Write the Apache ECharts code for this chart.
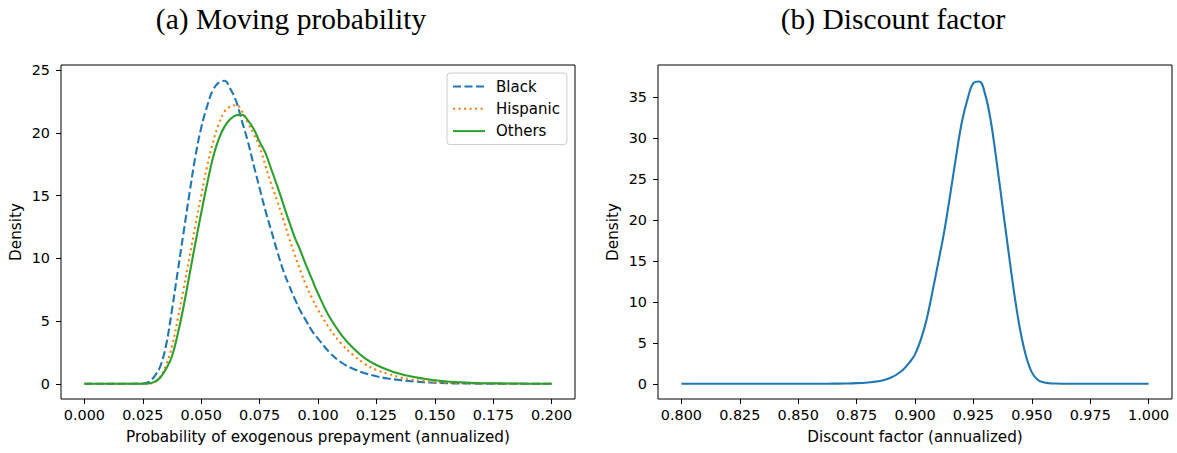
<!DOCTYPE html>
<html>
<head>
<meta charset="utf-8">
<script src="https://cdn.jsdelivr.net/npm/echarts@6/dist/echarts.min.js"></script>
<style>
html,body{margin:0;padding:0;background:#fff;}
#chart{width:1177px;height:453px;}
</style>
</head>
<body>
<div id="chart"></div>
<script>
// ---------- data ----------
const titleA = "(a) Moving probability";
const titleB = "(b) Discount factor";
const seriesNames = ["Black", "Hispanic", "Others"];

const probX = [0, 0.005, 0.01, 0.015, 0.02,
  0.025, 0.0275, 0.03, 0.0325, 0.035, 0.0375, 0.04, 0.0425, 0.045, 0.0475,
  0.05, 0.0525, 0.055, 0.0575, 0.06, 0.0625, 0.065, 0.0675, 0.07, 0.0725,
  0.075, 0.0775, 0.08, 0.0825, 0.085, 0.0875, 0.09, 0.0925, 0.095, 0.0975,
  0.1, 0.105, 0.11, 0.115, 0.12, 0.125, 0.13, 0.135, 0.14, 0.145,
  0.15, 0.155, 0.16, 0.165, 0.17, 0.175, 0.18, 0.185, 0.19, 0.195, 0.2];

const blackY = [0, 0, 0, 0, 0.005,
  0.03, 0.15, 0.6, 1.4, 3.1, 5.9, 9.0, 12.1, 15.2, 18.1,
  20.4, 22.1, 23.4, 24.0, 24.15, 23.5, 22.5, 20.9, 19.3, 17.4,
  15.6, 13.8, 12.2, 10.6, 9.1, 7.9, 6.8, 5.8, 5.0, 4.2,
  3.6, 2.5, 1.7, 1.2, 0.85, 0.6, 0.42, 0.3, 0.2, 0.13,
  0.08, 0.05, 0.03, 0.02, 0.01, 0, 0, 0, 0, 0, 0];

const hispanicY = [0, 0, 0, 0, 0,
  0, 0.02, 0.12, 0.55, 1.5, 3.0, 5.2, 7.6, 10.1, 12.6,
  15.0, 17.3, 19.2, 20.7, 21.7, 22.1, 22.2, 21.7, 20.8, 19.9,
  18.9, 17.4, 15.9, 14.6, 13.2, 11.7, 10.3, 9.0, 7.8, 6.8,
  5.9, 4.4, 3.2, 2.3, 1.6, 1.1, 0.8, 0.52, 0.34, 0.22,
  0.14, 0.09, 0.06, 0.04, 0.03, 0.02, 0.01, 0.01, 0, 0, 0];

const othersY = [0, 0, 0, 0, 0,
  0, 0.03, 0.15, 0.5, 1.2, 2.2, 4.0, 6.2, 8.7, 11.2,
  13.6, 15.9, 18.0, 19.5, 20.5, 21.1, 21.4, 21.45, 21.0, 20.3,
  19.3, 18.4, 17.1, 15.8, 14.4, 13.0, 11.7, 10.6, 9.4, 8.3,
  7.2, 5.3, 3.9, 2.85, 2.05, 1.5, 1.1, 0.8, 0.58, 0.42,
  0.28, 0.19, 0.13, 0.08, 0.05, 0.04, 0.03, 0.02, 0.01, 0, 0];

const discX = [0.8, 0.82, 0.84, 0.85, 0.86, 0.865, 0.87, 0.875, 0.88, 0.8825,
  0.885, 0.8875, 0.89, 0.8925, 0.895, 0.8975, 0.9, 0.9025, 0.905, 0.9075,
  0.91, 0.9125, 0.915, 0.9175, 0.92, 0.9225, 0.925, 0.9275, 0.93, 0.9325,
  0.935, 0.9375, 0.94, 0.9425, 0.945, 0.9475, 0.95, 0.9525, 0.955, 0.9575,
  0.96, 0.965, 0.97, 0.98, 1.0];
const discY = [0, 0, 0, 0, 0.01, 0.02, 0.04, 0.08, 0.17, 0.25,
  0.35, 0.52, 0.8, 1.2, 1.75, 2.55, 3.6, 5.4, 7.9, 11.3,
  14.9, 18.6, 23.0, 27.6, 31.9, 34.8, 36.75, 36.95, 35.4, 32.0,
  27.0, 21.6, 16.2, 11.0, 6.6, 3.4, 1.4, 0.5, 0.18, 0.07,
  0.03, 0.01, 0, 0, 0];

const xTicksA = [0, 0.025, 0.05, 0.075, 0.1, 0.125, 0.15, 0.175, 0.2];
const yTicksA = [0, 5, 10, 15, 20, 25];
const xTicksB = [0.8, 0.825, 0.85, 0.875, 0.9, 0.925, 0.95, 0.975, 1.0];
const yTicksB = [0, 5, 10, 15, 20, 25, 30, 35];

const xNameA = "Probability of exogenous prepayment (annualized)";
const xNameB = "Discount factor (annualized)";
const yName = "Density";

// ---------- styling ----------
const FS = 14.4;
const FS_NAME = 15.2;
const FS_LEG = 15;
const FONT = "DejaVu Sans";
const colors = ["#1f77b4", "#ff7f0e", "#2ca02c"];
const SMOOTH = 0.4;

function pairs(xs, ys) { return xs.map((x, i) => [x, ys[i]]); }

function xAxisCfg(gi, min, max, ticks, name) {
  return {
    type: "value", gridIndex: gi, min: min, max: max,
    name: name, nameLocation: "middle", nameGap: 30,
    nameTextStyle: { fontFamily: FONT, fontSize: FS_NAME, color: "#000" },
    axisLine: { show: false, onZero: false },
    axisTick: { show: true, length: 5, lineStyle: { color: "#000", width: 1 }, customValues: ticks },
    axisLabel: { show: true, margin: 9, fontFamily: FONT, fontSize: FS, color: "#000",
      customValues: ticks, formatter: v => Number(v).toFixed(3) },
    splitLine: { show: false }
  };
}
function yAxisCfg(gi, min, max, ticks) {
  return {
    type: "value", gridIndex: gi, min: min, max: max,
    name: yName, nameLocation: "middle", nameGap: 38,
    nameTextStyle: { fontFamily: FONT, fontSize: FS_NAME, color: "#000" },
    axisLine: { show: false, onZero: false },
    axisTick: { show: true, length: 5, lineStyle: { color: "#000", width: 1 }, customValues: ticks },
    axisLabel: { show: true, margin: 11, fontFamily: FONT, fontSize: FS, color: "#000",
      customValues: ticks, formatter: v => String(Math.round(v)) },
    splitLine: { show: false }
  };
}

const titleFont = "29.5px 'Liberation Serif'";
const chart = echarts.init(document.getElementById("chart"), null, { renderer: "svg" });
const option = {
  animation: false,
  backgroundColor: "#fff",
  graphic: [
    { type: "text", x: 291, y: 19, style: { text: titleA, font: titleFont, fill: "#000",
      textAlign: "center", textVerticalAlign: "middle", align: "center", verticalAlign: "middle" } },
    { type: "text", x: 893, y: 19, style: { text: titleB, font: titleFont, fill: "#000",
      textAlign: "center", textVerticalAlign: "middle", align: "center", verticalAlign: "middle" } }
  ],
  grid: [
    { left: 61, top: 65, width: 514, height: 334, show: true, borderColor: "#000", borderWidth: 1, backgroundColor: "transparent" },
    { left: 658, top: 65, width: 514, height: 334, show: true, borderColor: "#000", borderWidth: 1, backgroundColor: "transparent" }
  ],
  xAxis: [
    xAxisCfg(0, -0.01, 0.21, xTicksA, xNameA),
    xAxisCfg(1, 0.79, 1.01, xTicksB, xNameB)
  ],
  yAxis: [
    yAxisCfg(0, -1.21, 25.41, yTicksA),
    yAxisCfg(1, -1.855, 38.96, yTicksB)
  ],
  legend: {
    data: seriesNames,
    orient: "vertical",
    left: 447, top: 73,
    itemWidth: 32, itemHeight: 14, itemGap: 7.3,
    itemStyle: { opacity: 0 },
    padding: [6, 7, 6, 5],
    backgroundColor: "rgba(255,255,255,0.8)",
    borderColor: "#cccccc", borderWidth: 1, borderRadius: 3,
    textStyle: { fontFamily: FONT, fontSize: FS_LEG, color: "#000", padding: [0, 0, 0, 6] }
  },
  series: [
    { name: seriesNames[0], type: "line", xAxisIndex: 0, yAxisIndex: 0, data: pairs(probX, blackY),
      smooth: SMOOTH, symbol: "none", color: colors[0],
      lineStyle: { color: colors[0], width: 2.1, type: [8, 3.5] } },
    { name: seriesNames[1], type: "line", xAxisIndex: 0, yAxisIndex: 0, data: pairs(probX, hispanicY),
      smooth: SMOOTH, symbol: "none", color: colors[1],
      lineStyle: { color: colors[1], width: 2.1, type: [2.1, 3.4] } },
    { name: seriesNames[2], type: "line", xAxisIndex: 0, yAxisIndex: 0, data: pairs(probX, othersY),
      smooth: SMOOTH, symbol: "none", color: colors[2],
      lineStyle: { color: colors[2], width: 2.1, type: "solid" } },
    { name: "Discount", type: "line", xAxisIndex: 1, yAxisIndex: 1, data: pairs(discX, discY),
      smooth: SMOOTH, symbol: "none", color: colors[0],
      lineStyle: { color: colors[0], width: 2.1, type: "solid" } }
  ]
};
chart.setOption(option);
</script>
</body>
</html>
